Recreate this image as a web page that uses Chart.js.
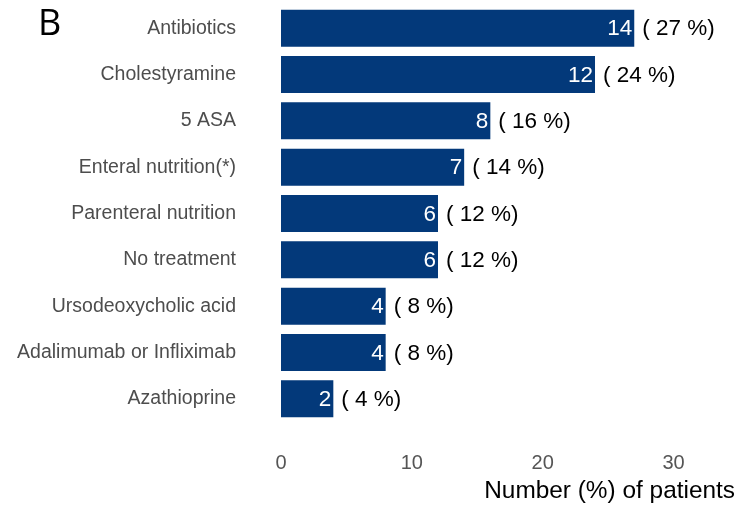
<!DOCTYPE html>
<html>
<head>
<meta charset="utf-8">
<script src="https://cdn.jsdelivr.net/npm/chart.js@4.4.1/dist/chart.umd.min.js"></script>
<style>
  html, body { margin: 0; padding: 0; background: #fff; }
  #chart { display: block; }
</style>
</head>
<body>
<canvas id="chart" width="746" height="508"></canvas>
<script>
// Treatments, top to bottom
const treatments = [
  "Antibiotics",
  "Cholestyramine",
  "5 ASA",
  "Enteral nutrition(*)",
  "Parenteral nutrition",
  "No treatment",
  "Ursodeoxycholic acid",
  "Adalimumab or Infliximab",
  "Azathioprine"
];
const patientCounts = [14, 12, 8, 7, 6, 6, 4, 4, 2];
const patientPercents = [27, 24, 16, 14, 12, 12, 8, 8, 4];
const xTicks = [0, 10, 20, 30];

const barColor = "#03397a";
const labelFont = "'Liberation Sans', Arial, sans-serif";

// Count inside the bar end, percentage just after it
const barLabels = {
  id: "barLabels",
  afterDatasetsDraw(chart) {
    const { ctx } = chart;
    const meta = chart.getDatasetMeta(0);
    ctx.save();
    ctx.font = "22.5px " + labelFont;
    ctx.textBaseline = "middle";
    meta.data.forEach((bar, i) => {
      ctx.fillStyle = "#ffffff";
      ctx.textAlign = "right";
      ctx.fillText(String(patientCounts[i]), bar.x - 2, bar.y + 1);
      ctx.fillStyle = "#000000";
      ctx.textAlign = "left";
      ctx.fillText("( " + patientPercents[i] + " %)", bar.x + 8, bar.y + 1);
    });
    ctx.restore();
  }
};

// Panel letter in the top-left corner
const panelLetter = {
  id: "panelLetter",
  afterDraw(chart) {
    const { ctx } = chart;
    ctx.save();
    ctx.font = "36px 'Open Sans', sans-serif";
    ctx.fillStyle = "#000";
    ctx.textAlign = "left";
    ctx.textBaseline = "alphabetic";
    ctx.fillText("B", 38, 35);
    ctx.restore();
  }
};

// tick padding also pads the chart area; drop that
function noEdgePadding(scale) {
  scale.paddingTop = 0;
  scale.paddingBottom = 0;
  scale.paddingLeft = 0;
  scale.paddingRight = 0;
}

new Chart(document.getElementById("chart").getContext("2d"), {
  type: "bar",
  data: {
    labels: treatments,
    datasets: [{
      data: patientPercents,
      backgroundColor: barColor,
      borderWidth: 0,
      barPercentage: 0.8,
      categoryPercentage: 1.0
    }]
  },
  options: {
    indexAxis: "y",
    responsive: false,
    animation: false,
    layout: { padding: { top: 5, right: 11, bottom: 0, left: 0 } },
    scales: {
      x: {
        min: 0,
        max: 34.7,
        border: { display: false },
        grid: { display: false, drawTicks: false },
        afterBuildTicks(scale) {
          scale.ticks = xTicks.map(v => ({ value: v }));
        },
        afterFit(scale) {
          noEdgePadding(scale);
          scale.height = 86;
        },
        ticks: {
          padding: 29,
          color: "#555555",
          font: { size: 20, family: labelFont }
        },
        title: {
          display: true,
          text: "Number (%) of patients",
          align: "end",
          color: "#000000",
          font: { size: 24.4, family: labelFont },
          padding: { top: 1, bottom: 2 }
        }
      },
      y: {
        border: { display: false },
        grid: { display: false, drawTicks: false },
        afterFit(scale) {
          noEdgePadding(scale);
          scale.width = 281;
        },
        ticks: {
          padding: 45,
          color: "#4d4d4d",
          font: { size: 19.5, family: labelFont }
        }
      }
    },
    plugins: {
      legend: { display: false },
      tooltip: { enabled: false }
    }
  },
  plugins: [barLabels, panelLetter]
});
</script>
</body>
</html>
